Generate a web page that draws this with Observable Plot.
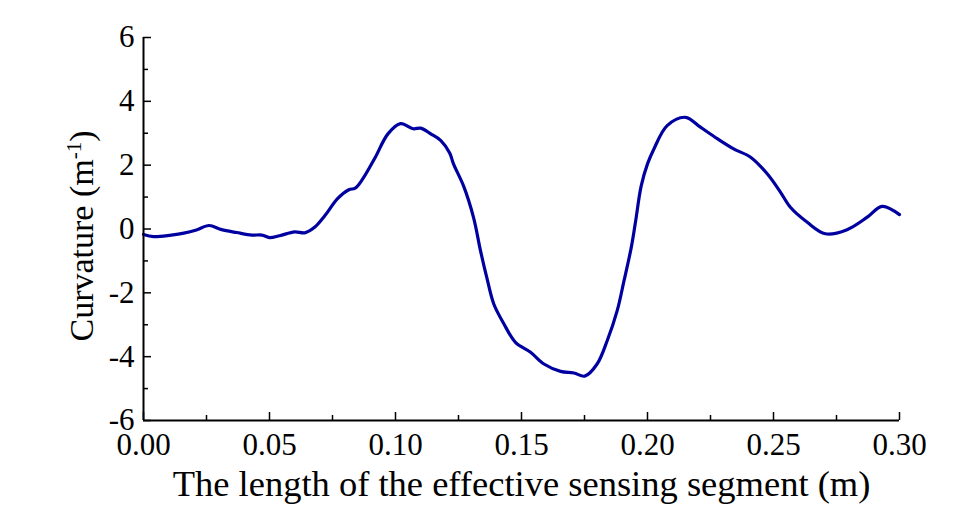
<!DOCTYPE html>
<html><head><meta charset="utf-8">
<script src="https://cdn.jsdelivr.net/npm/d3@7"></script>
<script src="https://cdn.jsdelivr.net/npm/@observablehq/plot@0.6"></script>
<style>html,body{margin:0;padding:0;background:#fff;}</style>
</head><body><div id="chart"></div>
<script>
const lengthM = [0.000,0.004,0.011,0.016,0.021,0.026,0.031,0.037,0.043,0.047,0.050,0.054,0.060,0.064,0.068,0.072,0.077,0.0815,0.084,0.087,0.092,0.097,0.102,0.107,0.110,0.114,0.118,0.1215,0.123,0.127,0.131,0.1337,0.1364,0.139,0.143,0.1476,0.1536,0.1589,0.1655,0.1708,0.1751,0.180,0.184,0.188,0.1906,0.1935,0.1952,0.1975,0.200,0.2025,0.2078,0.2151,0.221,0.2277,0.2342,0.2409,0.2475,0.2528,0.2567,0.2634,0.2706,0.2792,0.2872,0.2931,0.300];
const curvature = [-0.17,-0.24,-0.19,-0.13,-0.03,0.11,-0.02,-0.11,-0.19,-0.19,-0.27,-0.21,-0.09,-0.12,0.06,0.42,0.95,1.23,1.28,1.57,2.25,2.98,3.30,3.14,3.16,2.98,2.77,2.38,2.04,1.35,0.35,-0.67,-1.58,-2.35,-2.97,-3.55,-3.86,-4.23,-4.46,-4.51,-4.61,-4.23,-3.50,-2.55,-1.65,-0.60,0.20,1.35,2.04,2.50,3.24,3.50,3.19,2.83,2.51,2.25,1.73,1.15,0.68,0.21,-0.15,-0.02,0.37,0.71,0.45];
const xMajorTicks = [0, 0.05, 0.10, 0.15, 0.20, 0.25, 0.30];
const xMinorTicks = [0.025, 0.075, 0.125, 0.175, 0.225, 0.275];
const yMajorTicks = [-6, -4, -2, 0, 2, 4, 6];
const yMinorTicks = [-5, -3, -1, 1, 3, 5];
const xTitle = "The length of the effective sensing segment (m)";
const yTitleMain = "Curvature (m";
const yTitleSup = "-1";
const yTitleEnd = ")";

const data = lengthM.map((x, i) => ({x, y: curvature[i]}));
const font = "'Liberation Serif', 'Times New Roman', Times, serif";

const chart = Plot.plot({
  width: 953, height: 509,
  marginLeft: 143, marginRight: 54, marginTop: 37, marginBottom: 89,
  style: {fontFamily: font, background: "#fff", color: "#000", overflow: "visible"},
  x: {domain: [0, 0.3]},
  y: {domain: [-6, 6]},
  marks: [
    Plot.line(data, {x: "x", y: "y", stroke: "#0000a0", strokeWidth: 3.2, curve: "catmull-rom"}),
    Plot.ruleX([0], {strokeWidth: 2}),
    Plot.ruleY([-6], {strokeWidth: 2}),
    Plot.axisY(yMajorTicks, {tickSize: -8, strokeWidth: 1.5, fill: "none", label: null}),
    Plot.axisY(yMinorTicks, {tickSize: -5, strokeWidth: 1.5, fill: "none", label: null}),
    Plot.axisY(yMajorTicks, {tickSize: 0, tickPadding: 9, fontSize: 31, tickFormat: d => String(d), label: null}),
    Plot.axisX(xMajorTicks, {tickSize: -8, strokeWidth: 1.5, fill: "none", label: null}),
    Plot.axisX(xMinorTicks, {tickSize: -5, strokeWidth: 1.5, fill: "none", label: null}),
    Plot.axisX(xMajorTicks, {tickSize: 0, tickPadding: 12, fontSize: 31, tickFormat: d3.format(".2f"), label: null}),
    Plot.text([xTitle], {text: d => d, frameAnchor: "bottom", dy: 75, fontSize: 36.5}),
    Plot.text([yTitleMain], {text: d => d, frameAnchor: "left", textAnchor: "middle", dx: -61, dy: 7, rotate: -90, fontSize: 34})
  ]
});
document.getElementById("chart").appendChild(chart);

d3.select(chart).selectAll("text")
  .filter(function() { return this.textContent === yTitleMain; })
  .each(function() {
    const t = d3.select(this);
    t.append("tspan").attr("baseline-shift", "super").attr("font-size", "62%").text(yTitleSup);
    t.append("tspan").text(yTitleEnd);
  });
</script>
</body></html>
